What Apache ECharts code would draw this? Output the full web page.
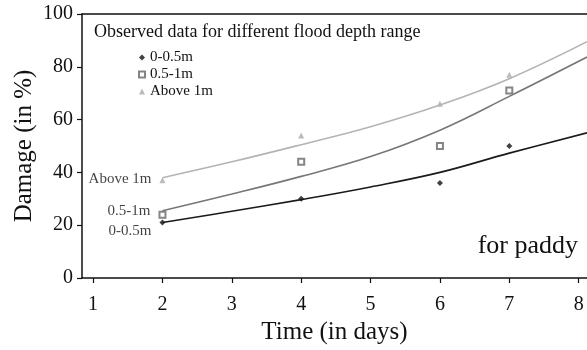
<!DOCTYPE html>
<html>
<head>
<meta charset="utf-8">
<style>
  html, body { margin: 0; padding: 0; background: #fff; }
  #chart { width: 587px; height: 350px; }
</style>
<script src="https://cdn.jsdelivr.net/npm/echarts@6/dist/echarts.min.js"></script>
</head>
<body>
<div id="chart"></div>
<script>
const dayTicks = [1, 2, 3, 4, 5, 6, 7, 8];
const obsDays = [2, 4, 6, 7];

// observed points
const obsLow = [21, 30, 36, 50];      // 0-0.5m
const obsMid = [24, 44, 50, 71];      // 0.5-1m
const obsHigh = [37, 54, 66, 77];     // Above 1m

// fitted curves
const curveDays = [2, 3, 4, 5, 6, 7, 8.12];
const curveLow = [21, 25.3, 29.7, 34.5, 40, 47.3, 55];
const curveMid = [25.5, 31.8, 38.5, 46, 56, 68.8, 83.7];
const curveHigh = [38, 44, 50.5, 57.3, 65.5, 75.5, 89.5];

const serif = "Liberation Serif";
const pair = (xs, ys) => xs.map((x, i) => [x, ys[i]]);

// label placed next to the first observed point of each series
function withStartLabel(points, text, offset) {
  return points.map((p, i) => i === 0 ? {
    value: p,
    label: {
      show: true, position: "left", distance: 8, offset: offset,
      formatter: text, fontFamily: serif, fontSize: 15, color: "#111"
    }
  } : p);
}

const chart = echarts.init(document.getElementById("chart"));

chart.setOption({
  animation: false,
  title: [
    {
      text: "Observed data for different flood depth range",
      left: 94, top: 23, padding: 0,
      textStyle: { fontFamily: serif, fontSize: 18, fontWeight: "normal", color: "#111" }
    },
    {
      text: "for paddy",
      right: 9, top: 233, padding: 0,
      textStyle: { fontFamily: serif, fontSize: 26, fontWeight: "normal", color: "#111" }
    }
  ],
  legend: {
    orient: "vertical",
    left: 138, top: 50,
    padding: 0,
    itemGap: 2,
    itemWidth: 6, itemHeight: 6,
    textStyle: { fontFamily: serif, fontSize: 15, color: "#111" },
    data: [
      { name: "0-0.5m", icon: "diamond" },
      { name: "0.5-1m", icon: "emptyRect" },
      { name: "Above 1m", icon: "triangle" }
    ]
  },
  grid: { left: 82, right: 0, top: 14, bottom: 70 },
  xAxis: [
    {
      type: "value",
      min: 0.84, max: 8.12,
      name: "Time (in days)",
      nameLocation: "middle",
      nameGap: 42,
      nameTextStyle: { fontFamily: serif, fontSize: 25, color: "#111" },
      axisLine: { lineStyle: { color: "#111", width: 1.5 } },
      axisTick: { show: true, length: 5, customValues: dayTicks, lineStyle: { color: "#111", width: 1.2 } },
      axisLabel: { customValues: dayTicks, margin: 17, fontFamily: serif, fontSize: 20, color: "#111" },
      splitLine: { show: false }
    },
    {
      type: "value",
      position: "top",
      min: 0.84, max: 8.12,
      axisLine: { show: true, lineStyle: { color: "#111", width: 1.5 } },
      axisTick: { show: false },
      axisLabel: { show: false },
      splitLine: { show: false }
    }
  ],
  yAxis: {
    type: "value",
    min: 0, max: 100, interval: 20,
    name: "Damage (in %)",
    nameLocation: "middle",
    nameGap: 45,
    nameMoveOverlap: false,
    nameTextStyle: { fontFamily: serif, fontSize: 25, color: "#111" },
    axisLine: { show: true, lineStyle: { color: "#111", width: 1.5 } },
    axisTick: { show: true, length: 5, lineStyle: { color: "#111", width: 1.2 } },
    axisLabel: { margin: 9, fontFamily: serif, fontSize: 20, color: "#111" },
    splitLine: { show: false }
  },
  series: [
    {
      type: "line", name: "fit-high", data: pair(curveDays, curveHigh),
      smooth: 0.4, showSymbol: false, silent: true,
      lineStyle: { color: "#b4b4b4", width: 1.6 }
    },
    {
      type: "line", name: "fit-mid", data: pair(curveDays, curveMid),
      smooth: 0.4, showSymbol: false, silent: true,
      lineStyle: { color: "#777", width: 1.6 }
    },
    {
      type: "line", name: "fit-low", data: pair(curveDays, curveLow),
      smooth: 0.4, showSymbol: false, silent: true,
      lineStyle: { color: "#1a1a1a", width: 1.6 }
    },
    {
      type: "scatter", name: "0-0.5m", symbol: "diamond", symbolSize: 6,
      itemStyle: { color: "#111" },
      data: withStartLabel(pair(obsDays, obsLow), "0-0.5m", [0, 9])
    },
    {
      type: "scatter", name: "0.5-1m", symbol: "emptyRect", symbolSize: 6,
      itemStyle: { color: "#666", borderColor: "#666", borderWidth: 1 },
      data: withStartLabel(pair(obsDays, obsMid), "0.5-1m", [0, -4])
    },
    {
      type: "scatter", name: "Above 1m", symbol: "triangle", symbolSize: 6,
      itemStyle: { color: "#aaa" },
      data: withStartLabel(pair(obsDays, obsHigh), "Above 1m", [0, -1])
    }
  ]
});
</script>
</body>
</html>
